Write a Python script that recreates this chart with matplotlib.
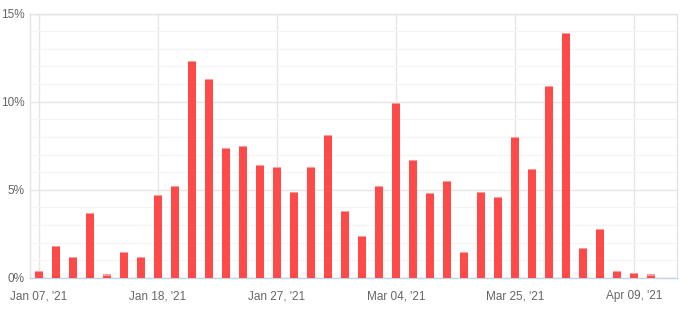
import matplotlib
matplotlib.use("Agg")
import matplotlib.pyplot as plt
from matplotlib.ticker import FixedLocator, MultipleLocator

plt.rcParams['font.family'] = ['Liberation Sans', 'DejaVu Sans']

values = [0.4, 1.8, 1.2, 3.7, 0.2, 1.5, 1.2, 4.7, 5.2, 12.3, 11.3, 7.4, 7.5,
          6.4, 6.3, 4.9, 6.3, 8.1, 3.8, 2.4, 5.2, 9.9, 6.7, 4.8, 5.5, 1.5,
          4.9, 4.6, 8.0, 6.2, 10.9, 13.9, 1.7, 2.8, 0.4, 0.3, 0.2]
tick_labels = ["Jan 07, '21", "Jan 18, '21", "Jan 27, '21",
               "Mar 04, '21", "Mar 25, '21", "Apr 09, '21"]
tick_index = [0, 7, 14, 21, 28, 35]
y_ticks = [0, 5, 10, 15]
y_tick_labels = ["0%", "5%", "10%", "15%"]

W, H = 691, 316
fig = plt.figure(figsize=(W / 100, H / 100), dpi=100)
ax = fig.add_axes([30 / W, 1 - 278 / H, (677 - 30) / W, (278 - 13.5) / H])

x = list(range(len(values)))
ax.bar(x, values, width=0.47, color="#ff4a4a", zorder=3)
ax.bar(x, [0.06] * len(values), bottom=[v - 0.06 for v in values], width=0.47,
       color="#ff9a9a", zorder=4)

ax.set_xlim(-0.53, 37.53)
ax.set_ylim(0, 15)

ax.xaxis.set_major_locator(FixedLocator(tick_index))
ax.set_xticklabels(tick_labels)
ax.set_yticks(y_ticks)
ax.set_yticklabels(y_tick_labels)
ax.yaxis.set_minor_locator(MultipleLocator(1))

ax.grid(axis="x", which="major", color="#e6e6e6", linewidth=1, zorder=0)
ax.grid(axis="y", which="major", color="#e6e6e6", linewidth=1, zorder=0)
ax.grid(axis="y", which="minor", color="#f4f4f4", linewidth=0.8, zorder=0)

for s in ["top", "right", "left"]:
    ax.spines[s].set_color("#e3e3e3")
    ax.spines[s].set_linewidth(1)
ax.spines["bottom"].set_color("#c5d3ea")
ax.spines["bottom"].set_linewidth(1)

ax.tick_params(axis="both", which="both", length=0, labelsize=8.5,
               labelcolor="#666666")
ax.tick_params(axis="x", pad=9)
ax.tick_params(axis="y", pad=4)

fig.savefig("out.png", dpi=100, facecolor="white")
